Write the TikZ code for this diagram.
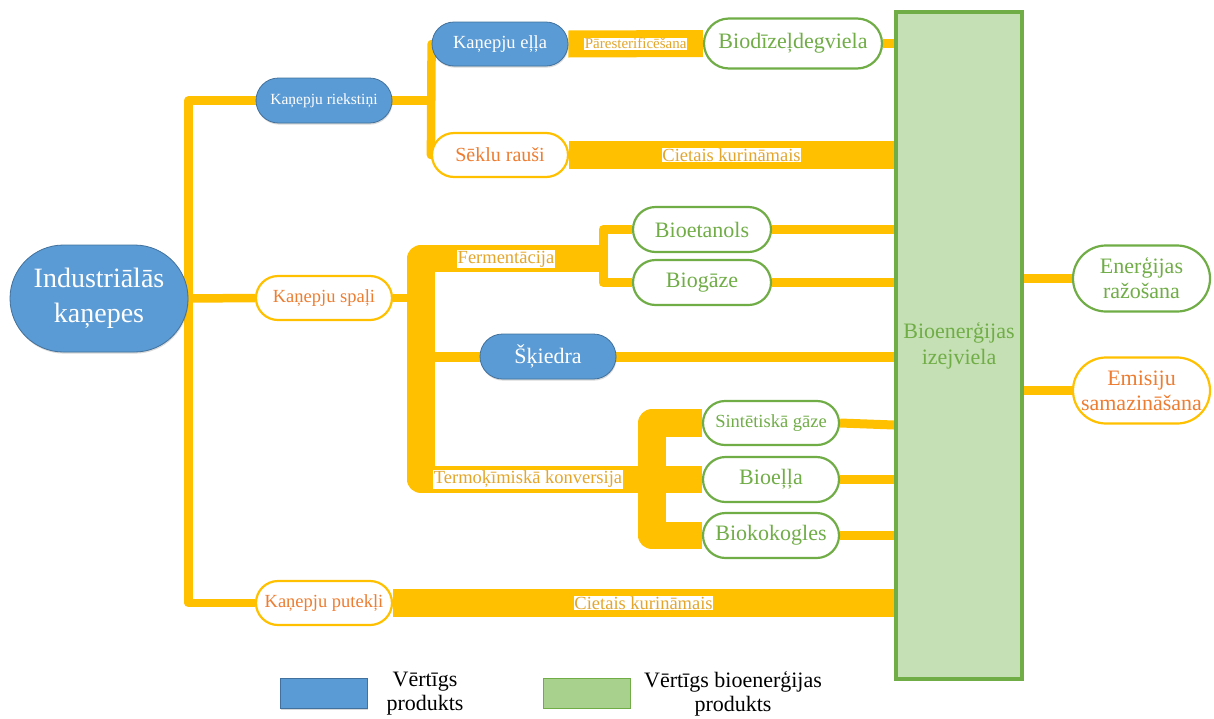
\documentclass[tikz,border=0pt]{standalone}
\usepackage{fontspec}
\setmainfont{Liberation Serif}
\usetikzlibrary{backgrounds,shadows,shapes.misc,calc}
\definecolor{bar}{HTML}{FFC000}
\definecolor{ora}{HTML}{ED7D31}
\definecolor{grn}{HTML}{70AD47}
\definecolor{blu}{HTML}{5B9BD5}
\definecolor{bluedge}{HTML}{41719C}
\definecolor{lgrn}{HTML}{C5E0B4}
\definecolor{lgrnb}{HTML}{A9D18E}
\definecolor{gold}{HTML}{E3A62B}
\newcommand\fsz[2]{\fontsize{#1}{#2}\selectfont}
\tikzset{
  pill/.style={rounded rectangle, inner sep=0pt, align=center},
  bnode/.style={pill, fill=blu, draw=bluedge, line width=0.8pt, text=white,
    drop shadow={shadow xshift=0.6pt, shadow yshift=-1.6pt, opacity=0.25, fill=black!60}},
  onode/.style={pill, fill=white, draw=bar, line width=2.2pt, text=ora},
  gnode/.style={pill, fill=white, draw=grn, line width=2.2pt, text=grn},
  tbar/.style={draw=bar, line width=8.5pt, line join=round},
  kbar/.style={draw=bar, line width=27.5pt, line join=round},
  lab/.style={fill=white, text=gold, inner sep=0.8pt},
}
\begin{document}
\begin{tikzpicture}[x=1pt,y=-1pt]
\useasboundingbox (0,0) rectangle (1214,718);

% nodes
\node[bnode, minimum width=178, minimum height=107, font=\fsz{28}{35}] (ind) at (99,298.5) {Industriālās\\kaņepes};
\node[bnode, minimum width=136, minimum height=45, font=\fsz{15.5}{18}] (riek) at (324,100.5) {Kaņepju riekstiņi};
\node[onode, minimum width=136, minimum height=44, font=\fsz{18.5}{22}] (spali) at (324,298) {Kaņepju spaļi};
\node[onode, minimum width=136, minimum height=44, font=\fsz{18.5}{22}] (put) at (324,603) {Kaņepju putekļi};
\node[bnode, minimum width=136, minimum height=44, font=\fsz{18.5}{22}] (ella) at (500,44) {Kaņepju eļļa};
\node[onode, minimum width=136, minimum height=44, font=\fsz{20}{24}] (rausi) at (500,155) {Sēklu rauši};
\node[gnode, minimum width=178, minimum height=50, font=\fsz{22}{26}] (bio) at (793,43.5) {Biodīzeļdegviela};
\node[gnode, minimum width=138, minimum height=45, font=\fsz{22}{26}] (bioet) at (702,229.5) {Bioetanols};
\node[gnode, minimum width=138, minimum height=45, font=\fsz{22}{26}] (biog) at (702,282.5) {Biogāze};
\node[bnode, minimum width=136, minimum height=45, font=\fsz{22}{26}] (skied) at (548,356.5) {Šķiedra};
\node[gnode, minimum width=136, minimum height=44, font=\fsz{18.5}{22}] (sint) at (771,423) {Sintētiskā gāze};
\node[gnode, minimum width=136, minimum height=45, font=\fsz{22}{26}] (bioella) at (771,479.5) {Bioeļļa};
\node[gnode, minimum width=136, minimum height=45, font=\fsz{22}{26}] (koks) at (771,535.5) {Biokokogles};
\node[draw=grn, fill=lgrn, line width=4pt, minimum width=126, minimum height=667, inner sep=0pt,
      text=grn, align=center, font=\fsz{22}{26}] (main) at (959,345.5) {Bioenerģijas\\izejviela};
\node[gnode, minimum width=137, minimum height=66, font=\fsz{22}{25}] (energ) at (1141.5,278.5) {Enerģijas\\ražošana};
\node[onode, minimum width=137, minimum height=66, font=\fsz{22}{25}] (emis) at (1141.5,390.5) {Emisiju\\samazināšana};

% legend
\node[fill=blu, draw=bluedge, line width=0.6pt, minimum width=87, minimum height=30, inner sep=0pt,
      drop shadow={shadow xshift=0.6pt, shadow yshift=-1.6pt, opacity=0.25, fill=black!60}] (leg1) at (323.5,693) {};
\node[fill=lgrnb, draw=grn, line width=1pt, minimum width=87, minimum height=30, inner sep=0pt] (leg2) at (586.5,693) {};
\node[align=center, font=\fsz{22}{24}, inner sep=0pt] (leg1t) at (425,694) {Vērtīgs\\produkts};
\node[align=center, font=\fsz{22}{24}, inner sep=0pt] (leg2t) at (733,694) {Vērtīgs bioenerģijas\\produkts};

% junction coordinates
\coordinate (sp) at (421,298);
\coordinate (fer) at (603,258.5);
\coordinate (ter) at (652,479.5);

% labels on the thick bars
\node[lab, font=\fsz{18.5}{22}] (ferl) at (506,259) {Fermentācija};
\node[lab, font=\fsz{18.5}{22}] (terl) at (528,479.5) {Termoķīmiskā konversija};

\begin{pgfonlayer}{background}
  \draw[tbar] (riek.west) -- (riek.west -| ind.east) -- (put.west -| ind.east) -- (put.west);
  \draw[tbar] (ind.east) -- (spali.west);
  \draw[tbar] (riek.east) -- (riek.east -| ella.west);
  \draw[tbar] ([xshift=15pt]ella.west) -- (ella.west) -- (rausi.west) -- ([xshift=15pt]rausi.west);
  \draw[kbar, line width=27pt] (ella.east) -- (bio.west) node[lab, midway, font=\fsz{15}{18}] (parl) {Pāresterificēšana};
  \draw[tbar] (bio.east) -- (bio.east -| main.west);
  \draw[kbar] (rausi.east) -- (rausi.east -| main.west) node[lab, midway, font=\fsz{18.5}{22}] (cie1) {Cietais kurināmais};
  \draw[tbar] (spali.east) -- (sp);
  \draw[kbar] (fer) -- (fer -| sp) -- (ter -| sp) -- (ter);
  \draw[tbar, line width=9pt] (bioet.west) -- (bioet.west -| fer) -- (biog.west -| fer) -- (biog.west);
  \draw[kbar] (sint.west) -- (sint.west -| ter) -- (koks.west -| ter) -- (koks.west);
  \draw[kbar] (ter) -- (bioella.west);
  \draw[tbar, line width=10pt] (sp |- skied.west) -- (skied.west);
  \draw[tbar, line width=9pt] (bioet.east) -- (bioet.east -| main.west);
  \draw[tbar, line width=9pt] (biog.east) -- (biog.east -| main.west);
  \draw[tbar, line width=10pt] (skied.east) -- (skied.east -| main.west);
  \draw[tbar, line width=9pt] (sint.east) -- ($(sint.east -| main.west)+(0,2)$);
  \draw[tbar, line width=9pt] (bioella.east) -- (bioella.east -| main.west);
  \draw[tbar, line width=9pt] (koks.east) -- (koks.east -| main.west);
  \draw[kbar, line width=28pt] (put.east) -- (put.east -| main.west) node[lab, midway, font=\fsz{18.5}{22}] (cie2) {Cietais kurināmais};
  \draw[tbar, line width=9pt] (main.east |- energ.west) -- (energ.west);
  \draw[tbar, line width=9pt] (main.east |- emis.west) -- (emis.west);
\end{pgfonlayer}
\end{tikzpicture}
\end{document}
